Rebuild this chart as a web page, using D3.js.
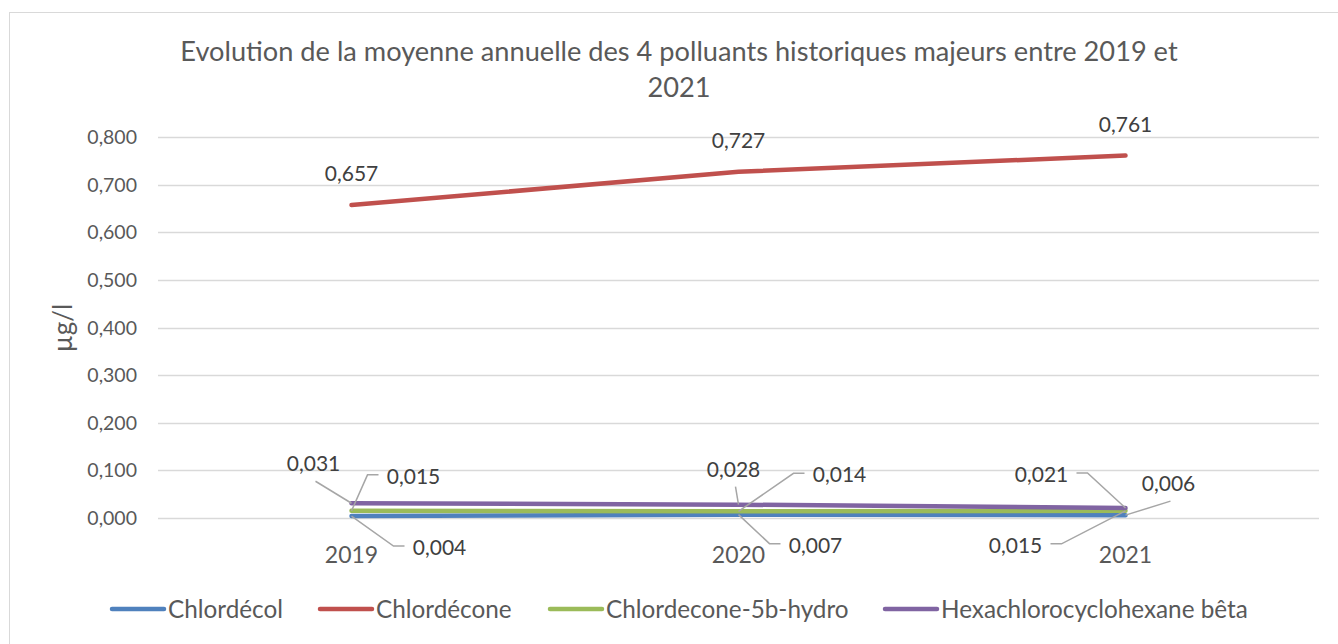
<!DOCTYPE html>
<html>
<head>
<meta charset="utf-8">
<script src="https://cdn.jsdelivr.net/npm/d3@7"></script>
<style>
  body { margin: 0; background: #fff; }
  text { font-family: Lato, "Open Sans", sans-serif; }
</style>
</head>
<body>
<script>
// data
var years = ["2019", "2020", "2021"];
var seriesNames = ["Chlordécol", "Chlordécone", "Chlordecone-5b-hydro", "Hexachlorocyclohexane bêta"];
var chlordecol = [0.004, 0.007, 0.006];
var chlordecone = [0.657, 0.727, 0.761];
var hydro = [0.015, 0.014, 0.015];
var hch = [0.031, 0.028, 0.021];
var yTicks = [0, 0.1, 0.2, 0.3, 0.4, 0.5, 0.6, 0.7, 0.8];

var colors = ["#4F81BD", "#C0504D", "#9BBB59", "#8064A2"];
var allValues = [chlordecol, chlordecone, hydro, hch];

// where the small-value labels sit: [dx, dy] of text centre from the point,
// and the kind of leader ("h" = elbow beside the text, "v" = from under it)
var labelPos = [
  [[88, 31, "h"], [77, 30, "h"], [-110, 30, "h"]],    // chlordécol
  null,
  [[62, -35, "h"], [101, -37, "h"], [-110, 34, "h"]], // hydro (2021 label is the low-left one)
  [[-38, -40, "v"], [-5, -36, "v"], [-84, -34, "h"]]  // hch
];
// 2021: "0,006" (chlordécol) sits up right, "0,015" (hydro) low left
labelPos[0][2] = [43, -32, "v"];

var width = 1338, height = 644;
var plotL = 158, plotR = 1319, plotT = 137, plotB = 518;

var svg = d3.select("body").append("svg")
  .attr("width", width).attr("height", height);

svg.append("rect")
  .attr("x", 9.5).attr("y", 12.5)
  .attr("width", width + 10).attr("height", height + 10)
  .attr("fill", "#fff").attr("stroke", "#D9D9D9");

var x = d3.scaleBand().domain(years).range([plotL, plotR]);
var y = d3.scaleLinear().domain([0, 0.8]).range([plotB, plotT]);
var cx = function(i){ return x(years[i]) + x.bandwidth()/2; };

// grid
svg.append("g").selectAll("line").data(yTicks).enter().append("line")
  .attr("x1", plotL).attr("x2", plotR)
  .attr("y1", function(d){ return Math.round(y(d)) + 0.5; })
  .attr("y2", function(d){ return Math.round(y(d)) + 0.5; })
  .attr("stroke", "#D9D9D9").attr("stroke-width", 1.3);

var fmt = function(v){ return d3.format(".3f")(v).replace(".", ","); };

svg.append("g").selectAll("text").data(yTicks).enter().append("text")
  .attr("x", 137).attr("y", function(d){ return y(d) + 7; })
  .attr("text-anchor", "end").attr("font-size", 19.5).attr("fill", "#595959")
  .text(fmt);

svg.append("g").selectAll("text").data(years).enter().append("text")
  .attr("x", function(d, i){ return cx(i); })
  .attr("y", 563)
  .attr("text-anchor", "middle").attr("font-size", 23).attr("fill", "#595959")
  .text(function(d){ return d; });

svg.append("text")
  .attr("transform", "translate(72,328) rotate(-90)")
  .attr("text-anchor", "middle").attr("font-size", 26).attr("fill", "#595959")
  .text("µg/l");

var title = svg.append("text")
  .attr("text-anchor", "middle").attr("font-size", 27.2).attr("fill", "#595959");
title.append("tspan").attr("x", 679).attr("y", 61)
  .text("Evolution de la moyenne annuelle des 4 polluants historiques majeurs entre 2019 et");
title.append("tspan").attr("x", 679).attr("y", 97).text("2021");

// lines
var line = d3.line()
  .x(function(d, i){ return cx(i); })
  .y(function(d){ return y(d); });

allValues.forEach(function(vals, s){
  svg.append("path").datum(vals)
    .attr("d", line)
    .attr("fill", "none").attr("stroke", colors[s])
    .attr("stroke-width", 4.5).attr("stroke-linecap", "round")
    .attr("stroke-linejoin", "round");
});

// chlordécone labels above the points
svg.append("g").selectAll("text").data(chlordecone).enter().append("text")
  .attr("x", function(d, i){ return cx(i); })
  .attr("y", function(d){ return y(d) - 24; })
  .attr("text-anchor", "middle").attr("font-size", 21).attr("fill", "#404040")
  .text(fmt);

// labels with leader lines for the small series
var lead = svg.append("g");
var labs = svg.append("g");
allValues.forEach(function(vals, s){
  if (!labelPos[s]) return;
  vals.forEach(function(v, i){
    var p = labelPos[s][i];
    var px = cx(i), py = y(v);
    var tx = px + p[0], ty = py + p[1];
    if (p[2] === "v") {
      lead.append("line")
        .attr("x1", tx + 2).attr("y1", ty + 18).attr("x2", px).attr("y2", py)
        .attr("stroke", "#A6A6A6").attr("stroke-width", 1.5);
    } else {
      var sgn = p[0] > 0 ? -1 : 1;
      var ax = tx + sgn * 35, ex = ax + sgn * 11;
      lead.append("polyline")
        .attr("points", [[ax, ty - 1], [ex, ty - 1], [px, py]].join(" "))
        .attr("fill", "none").attr("stroke", "#A6A6A6").attr("stroke-width", 1.5);
    }
    labs.append("text")
      .attr("x", tx).attr("y", ty + 8)
      .attr("text-anchor", "middle").attr("font-size", 21).attr("fill", "#404040")
      .text(fmt(v));
  });
});

// legend
var legX = [110, 318, 548, 883];
var leg = svg.append("g").selectAll("g").data(seriesNames).enter().append("g")
  .attr("transform", function(d, i){ return "translate(" + legX[i] + ",609)"; });
leg.append("line").attr("x1", 2).attr("x2", 54).attr("y1", 0).attr("y2", 0)
  .attr("stroke", function(d, i){ return colors[i]; })
  .attr("stroke-width", 4.5).attr("stroke-linecap", "round");
leg.append("text").attr("x", 58).attr("y", 8.5)
  .attr("font-size", 24.3).attr("fill", "#595959")
  .text(function(d){ return d; });
</script>
</body>
</html>
